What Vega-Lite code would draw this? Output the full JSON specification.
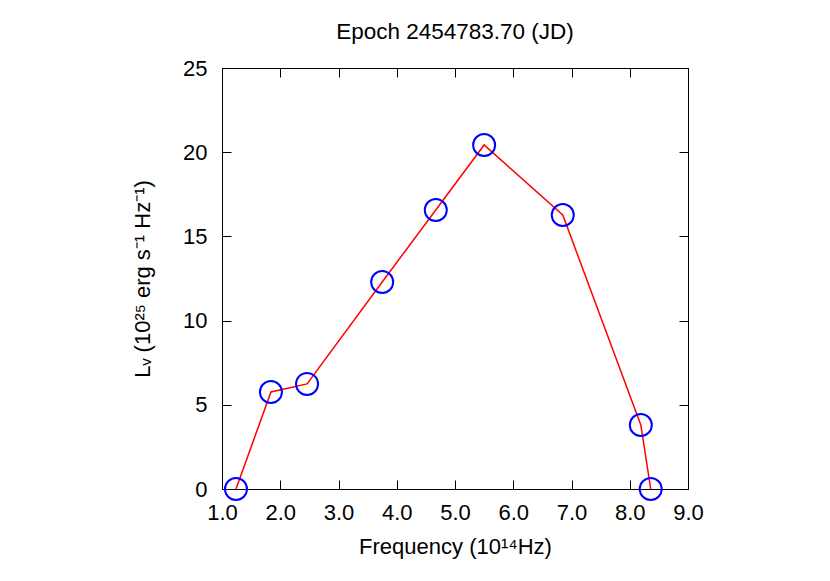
{
  "$schema": "https://vega.github.io/schema/vega-lite/v6.json",
  "autosize": "none",
  "width": 466,
  "height": 421,
  "padding": {"left": 222, "top": 68, "right": 142, "bottom": 92},
  "background": "white",
  "config": {
    "font": "Liberation Sans",
    "view": {"stroke": "black", "strokeWidth": 1},
    "axis": {"grid": false, "domainColor": "black", "tickColor": "black", "labelColor": "black", "titleColor": "black", "labelFont": "Liberation Sans", "titleFont": "Liberation Sans", "titleFontWeight": "normal", "labelFlush": false, "labelOverlap": false}
  },
  "title": {"text": "Epoch 2454783.70 (JD)", "fontSize": 22.5, "fontWeight": "normal", "font": "Liberation Sans", "offset": 14, "color": "black"},
  "data": {"values": [
    {"freq": 1.24, "L": 0.0},
    {"freq": 1.84, "L": 5.76},
    {"freq": 2.46, "L": 6.24},
    {"freq": 3.75, "L": 12.29},
    {"freq": 4.67, "L": 16.57},
    {"freq": 5.50, "L": 20.43},
    {"freq": 6.85, "L": 16.27},
    {"freq": 8.19, "L": 3.80},
    {"freq": 8.36, "L": 0.0}
  ]},
  "layer": [
    {
      "mark": {"type": "line", "color": "red", "strokeWidth": 1.5},
      "encoding": {
        "x": {"field": "freq", "type": "quantitative", "scale": {"domain": [1, 9], "nice": false, "zero": false},
          "axis": {"orient": "bottom", "values": [1,2,3,4,5,6,7,8,9], "format": ".1f", "tickSize": -9, "labelPadding": 22, "labelFontSize": 22, "title": "Frequency (10¹⁴Hz)", "titleFontSize": 22, "titlePadding": 13, "domain": true}},
        "y": {"field": "L", "type": "quantitative", "scale": {"domain": [0, 25], "nice": false},
          "axis": {"orient": "left", "values": [0,5,10,15,20,25], "format": "d", "tickSize": -9, "labelPadding": 24, "labelFontSize": 22, "title": "Lᵥ (10²⁵ erg s⁻¹ Hz⁻¹)", "titleFontSize": 22, "titlePadding": 28}}
      }
    },
    {
      "mark": {"type": "point", "shape": "circle", "filled": false, "color": "blue", "strokeWidth": 2, "size": 484, "opacity": 1},
      "encoding": {
        "x": {"field": "freq", "type": "quantitative",
          "axis": {"orient": "top", "values": [1,2,3,4,5,6,7,8,9], "tickSize": -9, "labels": false, "title": null}},
        "y": {"field": "L", "type": "quantitative",
          "axis": {"orient": "right", "values": [0,5,10,15,20,25], "tickSize": -9, "labels": false, "title": null}}
      }
    }
  ],
  "resolve": {"axis": {"x": "independent", "y": "independent"}}
}
